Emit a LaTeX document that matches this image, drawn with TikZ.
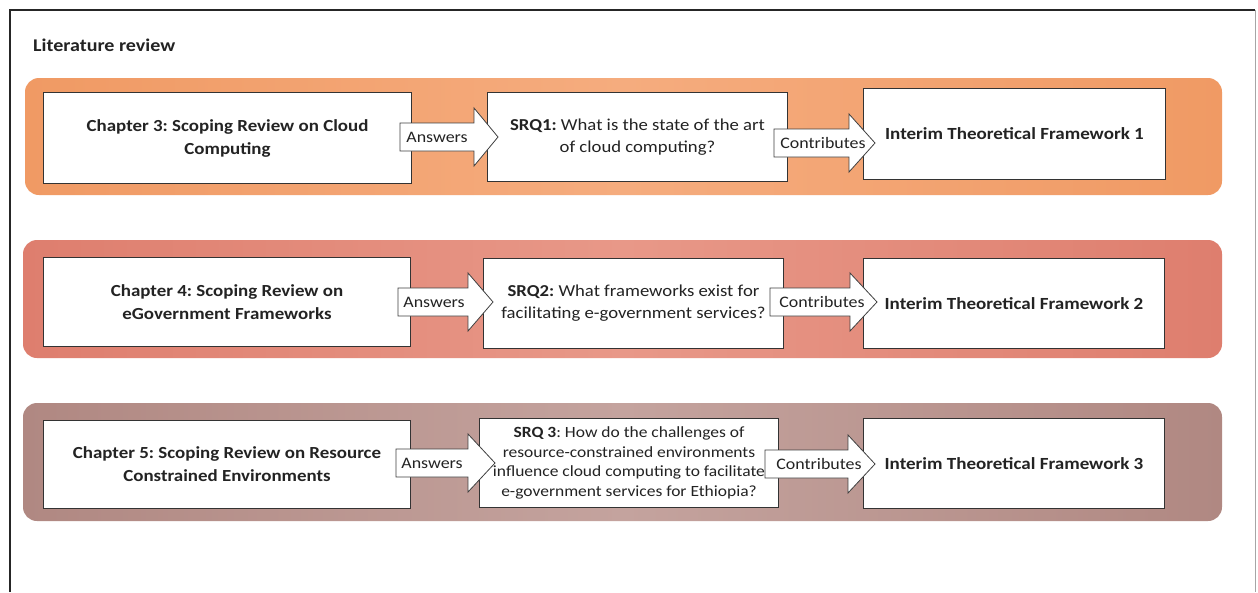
\documentclass[tikz,border=0pt]{standalone}
\usepackage{fontspec}
\setmainfont[FakeStretch=1.12]{Carlito}
\frenchspacing
\definecolor{bandAe}{RGB}{240,154,100}
\definecolor{bandAm}{RGB}{245,172,126}
\definecolor{bandBe}{RGB}{222,126,110}
\definecolor{bandBm}{RGB}{232,152,136}
\definecolor{bandCe}{RGB}{176,136,130}
\definecolor{bandCm}{RGB}{196,163,158}
\definecolor{txt}{RGB}{35,35,35}
\tikzset{
  band/.style={rounded corners=14pt},
  box/.style={draw=black!80, line width=1pt, fill=white, anchor=north west, align=center, text=txt, inner sep=2pt},
  blockarrow/.style={draw=black!75, line width=0.8pt, fill=white, line join=miter},
  arrowlabel/.style={text=txt, font=\fontsize{16}{18}\selectfont, inner sep=0pt},
}
\newcommand{\blkarrow}[4]{%
  % #1 start x, #2 head base x, #3 tip x, #4 centre y
  \draw[blockarrow] ({#1},{#4-14}) -- ({#2},{#4-14}) -- ({#2},{#4-29}) -- ({#3},{#4}) -- ({#2},{#4+29}) -- ({#2},{#4+14}) -- ({#1},{#4+14}) -- cycle;
}
\begin{document}
\begin{tikzpicture}[x=1pt,y=-1pt]
\useasboundingbox (0,0) rectangle (1258,592);
\fill[white] (0,0) rectangle (1258,592);
% frame
\draw[black!85, line width=1.3pt] (10,592) -- (10,10) -- (1255,10);
\draw[black!35, line width=0.8pt] (1255,10) -- (1255,592);
\node[anchor=west, text=txt, font=\fontsize{17.9}{20}\selectfont\bfseries, inner sep=0pt] (title) at (33,45) {Literature review};

% bands
\shade[band, left color=bandAe, right color=bandAe, middle color=bandAm] (25,78) rectangle (1222,195);
\shade[band, left color=bandBe, right color=bandBe, middle color=bandBm] (23,240) rectangle (1222,358);
\shade[band, left color=bandCe, right color=bandCe, middle color=bandCm] (23,403) rectangle (1222,521);

% row 1
\node[box, minimum width=368pt, minimum height=91pt, font=\fontsize{16.9}{23}\selectfont\bfseries] (a1) at (43,92) {Chapter 3: Scoping Review on Cloud\\Computing};
\node[box, minimum width=300pt, minimum height=89pt, font=\fontsize{16.7}{22}\selectfont] (b1) at (487,92) {\textbf{SRQ1:} What is the state of the art\\of cloud computing?};
\node[box, minimum width=302pt, minimum height=91pt, font=\fontsize{17}{19}\selectfont\bfseries] (c1) at (863,88) {Interim Theoretical Framework 1};

% row 2
\node[box, minimum width=367pt, minimum height=89pt, font=\fontsize{16.9}{23}\selectfont\bfseries] (a2) at (43,257) {Chapter 4: Scoping Review on\\eGovernment Frameworks};
\node[box, minimum width=300pt, minimum height=90pt, font=\fontsize{16.7}{22}\selectfont] (b2) at (483,258) {\textbf{SRQ2:} What frameworks exist for\\facilitating e-government services?};
\node[box, minimum width=301pt, minimum height=90pt, font=\fontsize{17}{19}\selectfont\bfseries] (c2) at (863,258) {Interim Theoretical Framework 2};

% row 3
\node[box, minimum width=367pt, minimum height=88pt, font=\fontsize{16.9}{23}\selectfont\bfseries] (a3) at (43,420) {Chapter 5: Scoping Review on Resource\\Constrained Environments};
\node[box, minimum width=299pt, minimum height=89pt, inner sep=1pt, font=\fontsize{15.6}{19.5}\selectfont] (b3) at (479,418) {\textbf{SRQ 3}: How do the challenges of\\resource-constrained environments\\influence cloud computing to facilitate\\e-government services for Ethiopia?};
\node[box, minimum width=301pt, minimum height=90pt, font=\fontsize{17}{19}\selectfont\bfseries] (c3) at (863,418) {Interim Theoretical Framework 3};

% block arrows
\blkarrow{400}{474}{498}{137}
\node[arrowlabel] (ans1) at (437,137) {Answers};
\blkarrow{774}{849}{875}{143}
\node[arrowlabel] (con1) at (823,143) {Contributes};

\blkarrow{398}{468}{493}{302}
\node[arrowlabel] (ans2) at (434,302) {Answers};
\blkarrow{770}{850}{877}{302}
\node[arrowlabel] (con2) at (822,302) {Contributes};

\blkarrow{396}{468}{495}{463}
\node[arrowlabel] (ans3) at (432,463) {Answers};
\blkarrow{765}{848}{875}{464}
\node[arrowlabel] (con3) at (819,464) {Contributes};
\end{tikzpicture}
\end{document}
